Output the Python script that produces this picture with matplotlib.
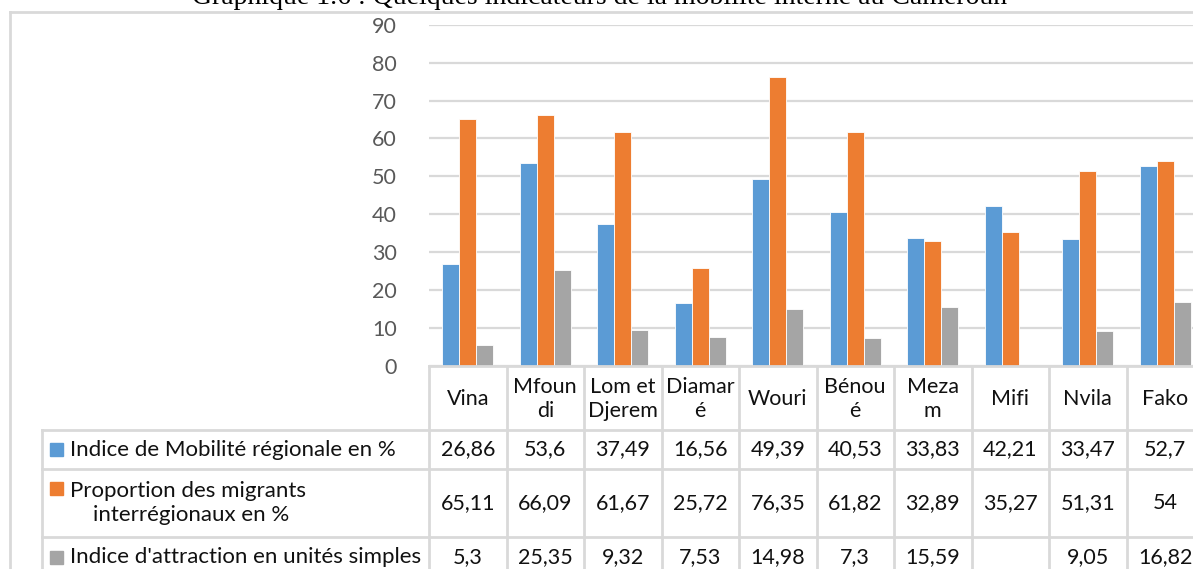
import numpy as np
import matplotlib.pyplot as plt
from matplotlib.patches import Rectangle

plt.rcParams['font.family'] = ['Lato', 'DejaVu Sans']

# data
categories = ["Vina", "Mfoun\ndi", "Lom et\nDjerem", "Diamar\né", "Wouri",
              "Bénou\né", "Meza\nm", "Mifi", "Nvila", "Fako"]
series_names = ["Indice de Mobilité régionale en %",
                "Proportion des migrants\n    interrégionaux en %",
                "Indice d'attraction en unités simples"]
mobilite = [26.86, 53.6, 37.49, 16.56, 49.39, 40.53, 33.83, 42.21, 33.47, 52.7]
proportion = [65.11, 66.09, 61.67, 25.72, 76.35, 61.82, 32.89, 35.27, 51.31, 54]
attraction = [5.3, 25.35, 9.32, 7.53, 14.98, 7.3, 15.59, None, 9.05, 16.82]
yticks = list(range(0, 100, 10))
title = "Graphique 1.6 : Quelques indicateurs de la mobilité interne au Cameroun"

colors = ["#5b9bd5", "#ed7d31", "#a5a5a5"]
grid_c = "#d9d9d9"
W, H = 1193, 569


def fmt(v):
    if v is None:
        return ""
    return f"{v:g}".replace(".", ",")


fig = plt.figure(figsize=(W / 100, H / 100), dpi=100)

# bar area (extends a bit past the right edge, as in the original)
ax = fig.add_axes([429 / W, 1 - 365.5 / H, (1204 - 429) / W, (365.5 - 25) / H])
x = np.arange(len(categories))
bw = 0.22
for k, vals in enumerate([mobilite, proportion, attraction]):
    v = np.array([np.nan if a is None else a for a in vals], dtype=float)
    ax.bar(x + (k - 1) * bw, v, bw, color=colors[k], edgecolor="white",
           linewidth=0.6, zorder=3)
ax.set_xlim(-0.5, len(categories) - 0.5)
ax.set_ylim(0, 90)
ax.set_yticks(yticks)
ax.set_xticks([])
ax.yaxis.grid(True, color=grid_c, linewidth=1.6, zorder=0)
for s in ["top", "right", "left", "bottom"]:
    ax.spines[s].set_visible(False)
ax.tick_params(axis="y", length=0, pad=23, labelsize=15.5, labelcolor="#595959")

# overlay in pixel coordinates for the table and frame
ov = fig.add_axes([0, 0, 1, 1], zorder=5)
ov.set_xlim(0, W)
ov.set_ylim(H, 0)
ov.axis("off")
ov.patch.set_alpha(0)

edges = [ax.transData.transform((i - 0.5, 0))[0] for i in range(len(categories) + 1)]
lw = 2.0
rows = [365.5, 430, 469, 537, 600]
left = 42

# frame
ov.plot([10, W + 5], [12, 12], color=grid_c, lw=lw, clip_on=False)
ov.plot([10, 10], [12, H + 5], color=grid_c, lw=lw, clip_on=False)

# table grid
ov.plot([edges[0], W + 20], [rows[0], rows[0]], color=grid_c, lw=lw)
for r in rows[1:4]:
    ov.plot([left, W + 20], [r, r], color=grid_c, lw=lw)
for e in edges:
    ov.plot([e, e], [rows[0], H + 5], color=grid_c, lw=lw)
ov.plot([left, left], [rows[1], H + 5], color=grid_c, lw=lw)

centers = [(edges[i] + edges[i + 1]) / 2 for i in range(len(categories))]
fs = 15.5
for c, lab in zip(centers, categories):
    ov.text(c, (rows[0] + rows[1]) / 2 + 1, lab, ha="center", va="center",
            fontsize=fs, color="#111111", linespacing=1.25)

row_centers = [(rows[1] + rows[2]) / 2, (rows[2] + rows[3]) / 2, 557]
for k, (name, vals) in enumerate(zip(series_names, [mobilite, proportion, attraction])):
    yc = row_centers[k]
    ty = yc - 14.5 if "\n" in name else yc
    ov.add_patch(Rectangle((50, ty - 6.5), 13, 13, color=colors[k]))
    ov.text(70, yc, name, ha="left", va="center", fontsize=16,
            color="#111111", linespacing=1.28)
    for c, v in zip(centers, vals):
        ov.text(c, yc, fmt(v), ha="center", va="center", fontsize=fs,
                color="#111111")

# title, cut at the top edge like in the source
ov.text(600, 4, title, ha="center", va="baseline", fontsize=20,
        family="Liberation Serif", color="black")

fig.savefig("out.png", dpi=100)
